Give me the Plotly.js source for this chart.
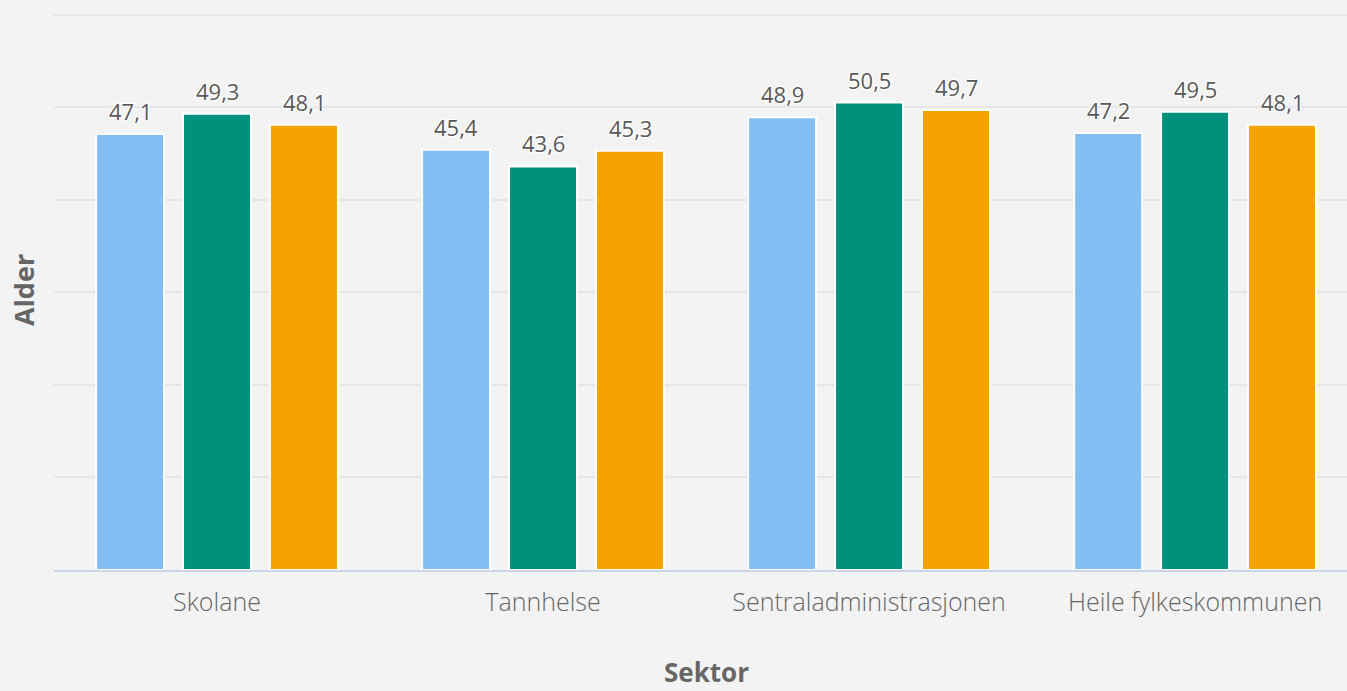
<!DOCTYPE html>
<html>
<head>
<meta charset="utf-8">
<script src="https://cdn.plot.ly/plotly-3.0.1.min.js"></script>
<style>
html,body{margin:0;padding:0;background:#f3f3f3;}
#chart{width:1347px;height:691px;}
</style>
</head>
<body>
<div id="chart"></div>
<script>
const categories = ["Skolane", "Tannhelse", "Sentraladministrasjonen", "Heile fylkeskommunen"];
const seriesNames = ["Serie 1", "Serie 2", "Serie 3"];
const series1 = [47.1, 45.4, 48.9, 47.2];
const series2 = [49.3, 43.6, 50.5, 49.5];
const series3 = [48.1, 45.3, 49.7, 48.1];
const colors = ["#83bff3", "#00917d", "#f4a200"];
const xTitle = "Sektor";
const yTitle = "Alder";

const fmt = v => v.toFixed(1).replace(".", ",");
const allSeries = [series1, series2, series3];
const FONT = "'Open Sans', Lato, sans-serif";
const HALO = "1px 1px 1px #fff, -1px -1px 1px #fff, 1px -1px 1px #fff, -1px 1px 1px #fff";

const traces = allSeries.map((vals, i) => ({
  type: "bar",
  name: seriesNames[i],
  x: categories,
  y: vals,
  marker: {color: colors[i], line: {color: "#ffffff", width: 2}},
  hoverinfo: "x+y"
}));

// value labels placed on the bars via the axis scales
const slotPx = 87;
const annotations = [];
allSeries.forEach((vals, j) => {
  vals.forEach((v, i) => {
    annotations.push({
      x: categories[i], y: v, xref: "x", yref: "y",
      xshift: (j - 1) * slotPx, yshift: 6,
      yanchor: "bottom", xanchor: "center",
      text: fmt(v), showarrow: false,
      font: {family: FONT, size: 22, color: "#595959", shadow: HALO}
    });
  });
});

// axis titles
annotations.push({
  xref: "paper", yref: "paper", x: 0, y: 0.5, xshift: -31,
  xanchor: "center", yanchor: "middle", textangle: -90,
  text: "<b>" + yTitle + "</b>", showarrow: false,
  font: {family: FONT, size: 27, color: "#666666"}
});
annotations.push({
  xref: "paper", yref: "paper", x: 0.5, y: 0, xshift: 6, yshift: -102,
  xanchor: "center", yanchor: "middle",
  text: "<b>" + xTitle + "</b>", showarrow: false,
  font: {family: FONT, size: 26, color: "#666666"}
});

const layout = {
  width: 1347, height: 691,
  paper_bgcolor: "#f3f3f3", plot_bgcolor: "#f3f3f3",
  margin: {l: 54, r: 0, t: 10, b: 121},
  barmode: "group",
  bargap: 0.2,
  bargroupgap: 0.218,
  showlegend: false,
  font: {family: FONT, color: "#666666"},
  annotations: annotations,
  xaxis: {
    type: "category",
    range: [-0.5, 3.466],
    showline: true, linecolor: "#ccd6eb", linewidth: 2,
    ticks: "outside", ticklen: 9, tickcolor: "rgba(0,0,0,0)",
    tickfont: {family: FONT, size: 25, color: "#666666", weight: 300},
    automargin: false
  },
  yaxis: {
    range: [0, 60.5],
    dtick: 10,
    showticklabels: false,
    showgrid: true, gridcolor: "#e6e6e6", gridwidth: 2,
    zeroline: false,
    automargin: false
  }
};

Plotly.newPlot("chart", traces, layout, {displayModeBar: false, staticPlot: true});
</script>
</body>
</html>
